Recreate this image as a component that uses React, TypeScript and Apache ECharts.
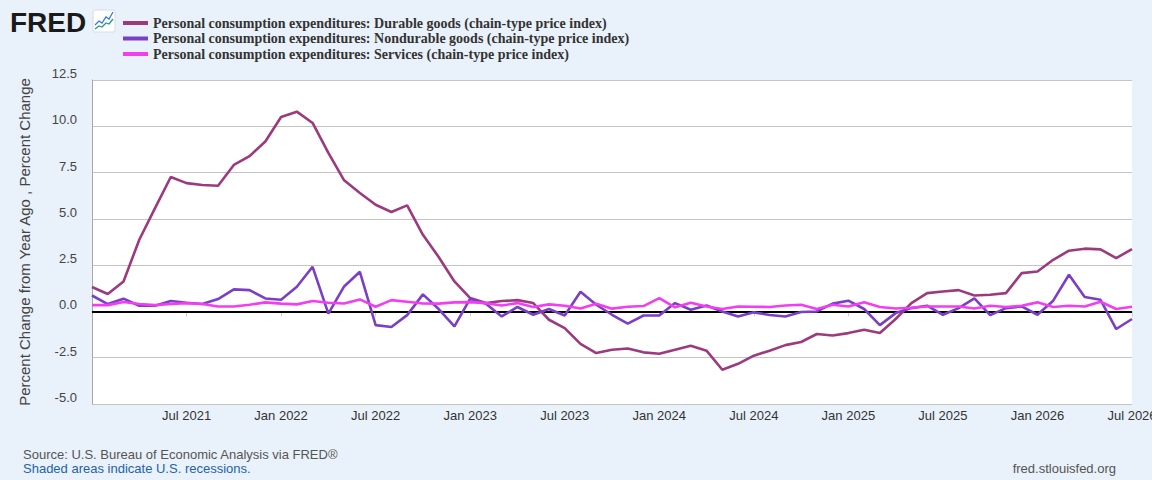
import { useEffect, useRef } from "react";
import * as echarts from "echarts";

const MONTHS = ["Jan", "Feb", "Mar", "Apr", "May", "Jun", "Jul", "Aug", "Sep", "Oct", "Nov", "Dec"];
const YEARS = [2021, 2022, 2023, 2024, 2025, 2026];
const categories = YEARS.flatMap((y) => MONTHS.map((m) => `${m} ${y}`)).slice(0, 67);

const durable = [
  1.32, 0.94, 1.62, 3.87, 5.58, 7.26, 6.93, 6.83, 6.79, 7.91,
  8.39, 9.18, 10.5, 10.79, 10.18, 8.56, 7.08, 6.4, 5.76, 5.37,
  5.73, 4.14, 2.94, 1.62, 0.72, 0.45, 0.56, 0.61, 0.45, -0.45,
  -0.9, -1.75, -2.25, -2.07, -2.0, -2.21, -2.29, -2.07, -1.85, -2.12,
  -3.15, -2.83, -2.39, -2.12, -1.82, -1.65, -1.22, -1.3, -1.17, -0.99,
  -1.17, -0.41, 0.45, 0.99, 1.08, 1.15, 0.86, 0.9, 0.99, 2.07,
  2.16, 2.79, 3.28, 3.39, 3.35, 2.88, 3.37,
];
const nondurable = [
  0.86, 0.4, 0.69, 0.31, 0.31, 0.56, 0.47, 0.4, 0.67, 1.19,
  1.15, 0.7, 0.63, 1.33, 2.41, -0.12, 1.35, 2.14, -0.74, -0.84,
  -0.2, 0.92, 0.13, -0.81, 0.69, 0.42, -0.27, 0.24, -0.18, 0.13,
  -0.22, 1.06, 0.36, -0.18, -0.66, -0.22, -0.22, 0.45, 0.09, 0.32,
  0.0, -0.27, -0.05, -0.19, -0.27, -0.03, 0.0, 0.42, 0.58, 0.13,
  -0.74, -0.09, 0.18, 0.31, -0.18, 0.18, 0.7, -0.2, 0.18, 0.27,
  -0.18, 0.58, 1.98, 0.78, 0.63, -0.95, -0.41,
];
const services = [
  0.34, 0.34, 0.51, 0.4, 0.34, 0.4, 0.45, 0.4, 0.27, 0.27,
  0.36, 0.49, 0.42, 0.38, 0.56, 0.47, 0.43, 0.65, 0.25, 0.61,
  0.52, 0.43, 0.42, 0.49, 0.5, 0.45, 0.32, 0.45, 0.24, 0.38,
  0.31, 0.16, 0.42, 0.15, 0.25, 0.29, 0.72, 0.22, 0.47, 0.27,
  0.13, 0.27, 0.25, 0.24, 0.32, 0.36, 0.13, 0.36, 0.27, 0.49,
  0.24, 0.16, 0.2, 0.27, 0.27, 0.27, 0.16, 0.31, 0.24, 0.31,
  0.49, 0.24, 0.31, 0.27, 0.52, 0.13, 0.25,
];

const seriesNames = [
  "Personal consumption expenditures: Durable goods (chain-type price index)",
  "Personal consumption expenditures: Nondurable goods (chain-type price index)",
  "Personal consumption expenditures: Services (chain-type price index)",
];
const colors = ["#9c3a7e", "#7b3fc6", "#f23ef0"];

const sans = "'Liberation Sans', Arial, sans-serif";
const showTick = (i: number) => i > 0 && i % 6 === 0;

export default function App() {
  const ref = useRef<HTMLDivElement>(null);

  useEffect(() => {
    if (!ref.current) return;
    const chart = echarts.init(ref.current, undefined, { renderer: "svg" });
    const values = [durable, nondurable, services];
    chart.setOption({
      animation: false,
      backgroundColor: "#e9f1fa",
      color: colors,
      grid: {
        left: 92,
        right: 20,
        top: 80,
        bottom: 76,
        backgroundColor: "#fff",
        show: true,
        borderWidth: 0,
        outerBoundsMode: "none",
        containLabel: false,
      },
      legend: {
        orient: "vertical",
        left: 123,
        top: 16,
        padding: 0,
        itemWidth: 25,
        itemHeight: 4,
        itemGap: 1.5,
        icon: "rect",
        textStyle: {
          fontFamily: "'Liberation Serif', 'Times New Roman', serif",
          fontWeight: "bold",
          fontSize: 14,
          color: "#333",
        },
      },
      xAxis: {
        type: "category",
        boundaryGap: false,
        data: categories,
        axisLine: { lineStyle: { color: "#c3ccd6", width: 1 } },
        axisTick: { show: true, interval: (i: number) => showTick(i), length: 5, lineStyle: { color: "#c3d1e0" } },
        axisLabel: {
          interval: (i: number) => showTick(i),
          color: "#333",
          fontSize: 13,
          fontFamily: sans,
          margin: 5,
          hideOverlap: false,
        },
        splitLine: { show: false },
      },
      yAxis: {
        type: "value",
        min: -5,
        max: 12.5,
        interval: 2.5,
        name: "Percent Change from Year Ago , Percent Change",
        nameLocation: "middle",
        nameGap: 60,
        nameRotate: 90,
        nameTextStyle: { color: "#444", fontSize: 15, fontFamily: sans },
        axisLine: { show: true, lineStyle: { color: "#a8a8a8" } },
        axisTick: { show: false },
        axisLabel: {
          color: "#444",
          fontSize: 13,
          fontFamily: sans,
          margin: 15,
          verticalAlign: "bottom",
          formatter: (v: number) => v.toFixed(1),
        },
        splitLine: { lineStyle: { color: "#c4c4c4", width: 1 } },
      },
      series: values.map((data, k) => ({
        name: seriesNames[k],
        type: "line",
        data,
        showSymbol: false,
        symbol: "none",
        lineStyle: { width: 2.6, color: colors[k] },
        itemStyle: { color: colors[k] },
        z: 3 + k,
        markLine:
          k === 0
            ? {
                silent: true,
                symbol: "none",
                label: { show: false },
                lineStyle: { color: "#000", width: 2, type: "solid" },
                data: [{ yAxis: 0 }],
                z: 2,
              }
            : undefined,
      })),
      graphic: [
        {
          type: "text",
          left: 10,
          top: 8,
          style: { text: "FRED", fill: "#1a1a1a", font: `900 28px ${sans}` },
        },
        {
          type: "rect",
          shape: { x: 93, y: 10, width: 22, height: 22, r: 2 },
          style: { fill: "#fff", stroke: "#d8dde3", lineWidth: 1 },
        },
        {
          type: "polyline",
          shape: { points: [[95, 25], [99, 21], [102, 23], [106, 17], [109, 19], [113, 12]] },
          style: { stroke: "#2f7de1", lineWidth: 1.3, fill: "none" },
        },
        {
          type: "polyline",
          shape: { points: [[95, 29], [99, 26], [102, 27], [106, 23], [109, 24], [113, 19]] },
          style: { stroke: "#2a9a7a", lineWidth: 1.3, fill: "none" },
        },
        {
          type: "text",
          left: 23,
          top: 448,
          style: { text: "Source: U.S. Bureau of Economic Analysis via FRED®", fill: "#555", font: `13px ${sans}` },
        },
        {
          type: "text",
          left: 23,
          top: 462,
          style: { text: "Shaded areas indicate U.S. recessions.", fill: "#2463a6", font: `13px ${sans}` },
        },
        {
          type: "text",
          right: 36,
          top: 462,
          style: { text: "fred.stlouisfed.org", fill: "#555", font: `13px ${sans}` },
        },
      ],
    });
    return () => chart.dispose();
  }, []);

  return <div ref={ref} style={{ position: "absolute", left: 0, top: 0, width: 1152, height: 480 }} />;
}
